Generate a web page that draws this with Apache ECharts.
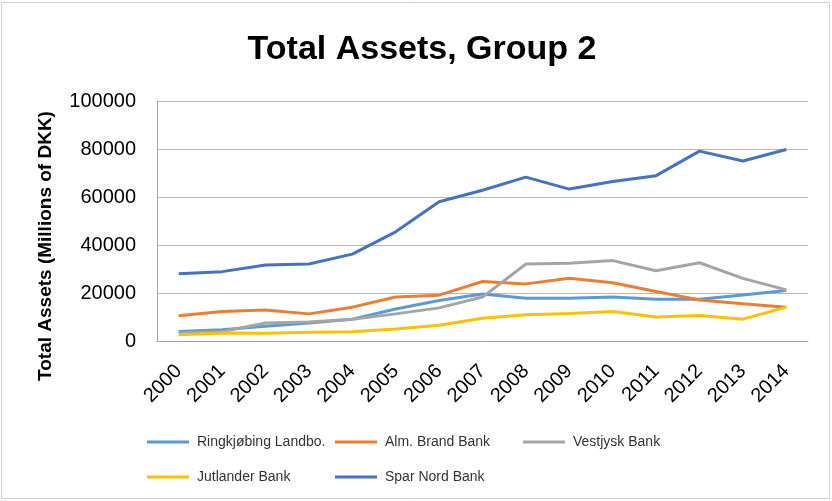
<!DOCTYPE html>
<html>
<head>
<meta charset="utf-8">
<title>Total Assets, Group 2</title>
<script src="https://cdn.jsdelivr.net/npm/echarts@6/dist/echarts.min.js"></script>
<style>
  html, body { margin: 0; padding: 0; background: #fff; }
  #chart { width: 832px; height: 501px; }
</style>
</head>
<body>
<div id="chart"></div>
<script>
// years on the x axis
const years = ["2000", "2001", "2002", "2003", "2004", "2005", "2006", "2007",
  "2008", "2009", "2010", "2011", "2012", "2013", "2014"];

// total assets, millions of DKK
const ringkjobing = [4000, 4700, 6100, 7500, 9100, 13300, 16900, 19600, 17800, 17800, 18300, 17400, 17400, 19200, 21000];
const almBrand = [10500, 12300, 12900, 11300, 14100, 18300, 19100, 24800, 23800, 26100, 24300, 20600, 17100, 15500, 14100];
const vestjysk = [3300, 3900, 7500, 7900, 9100, 11300, 13800, 18300, 32100, 32400, 33500, 29300, 32600, 26100, 21300];
const jutlander = [2600, 3300, 3200, 3600, 3900, 5000, 6600, 9500, 10900, 11500, 12300, 10000, 10600, 9100, 14100];
const sparNord = [28000, 28900, 31700, 32100, 36200, 45500, 58000, 62800, 68300, 63300, 66500, 68900, 79100, 75000, 79800];

const seriesList = [
  { name: "Ringkjøbing Landbo.", data: ringkjobing, color: "#5B9BD5" },
  { name: "Alm. Brand Bank", data: almBrand, color: "#ED7D31" },
  { name: "Vestjysk Bank", data: vestjysk, color: "#A5A5A5" },
  { name: "Jutlander Bank", data: jutlander, color: "#FFC000" },
  { name: "Spar Nord Bank", data: sparNord, color: "#4472C4" }
];

// legend slots: left, top
const legendSlots = [[142, 429], [330, 429], [518, 429], [142, 464], [330, 464]];

const font = "Liberation Sans, Arial, sans-serif";
const chart = echarts.init(document.getElementById("chart"));

const option = {
  animation: false,
  backgroundColor: "#fff",
  title: {
    text: "Total Assets, Group 2",
    left: 417,
    top: 28,
    textAlign: "center",
    textStyle: { fontFamily: font, fontSize: 34, fontWeight: "bold", color: "#000" }
  },
  legend: seriesList.map((s, i) => ({
    data: [s.name],
    left: legendSlots[i][0],
    top: legendSlots[i][1],
    icon: "rect",
    itemWidth: 42,
    itemHeight: 3,
    textStyle: { fontFamily: font, fontSize: 14, color: "#333", padding: [0, 0, 0, 3], lineHeight: 16 }
  })),
  graphic: [
    {
      type: "rect",
      shape: { x: 1.5, y: 2.5, width: 828, height: 496 },
      style: { fill: "none", stroke: "#D0D0D0", lineWidth: 1 },
      silent: true
    },
    {
      type: "text",
      x: 46,
      y: 246,
      rotation: Math.PI / 2,
      style: {
        text: "Total Assets (Millions of DKK)",
        fontFamily: font,
        fontSize: 19,
        fontWeight: "bold",
        fill: "#000",
        textAlign: "center",
        textVerticalAlign: "middle"
      }
    }
  ],
  grid: { left: 157, right: 24, top: 101, bottom: 160, containLabel: false },
  xAxis: {
    type: "category",
    data: years,
    boundaryGap: true,
    axisLine: { show: true, lineStyle: { color: "#A6A6A6", width: 1 } },
    axisTick: { show: false },
    axisLabel: { rotate: 45, margin: 27, fontFamily: font, fontSize: 20, color: "#000", interval: 0 }
  },
  yAxis: {
    type: "value",
    min: 0,
    max: 100000,
    interval: 20000,
    axisLine: { show: true, lineStyle: { color: "#A6A6A6", width: 1 } },
    axisTick: { show: false },
    splitLine: { show: true, lineStyle: { color: "#B8B8B8", width: 1 } },
    axisLabel: {
      margin: 21, fontFamily: font, fontSize: 20, color: "#000",
      formatter: v => String(v)
    }
  },
  series: seriesList.map(s => ({
    name: s.name,
    type: "line",
    data: s.data,
    showSymbol: false,
    symbol: "none",
    lineStyle: { width: 3, color: s.color },
    itemStyle: { color: s.color }
  }))
};

chart.setOption(option);
</script>
</body>
</html>
